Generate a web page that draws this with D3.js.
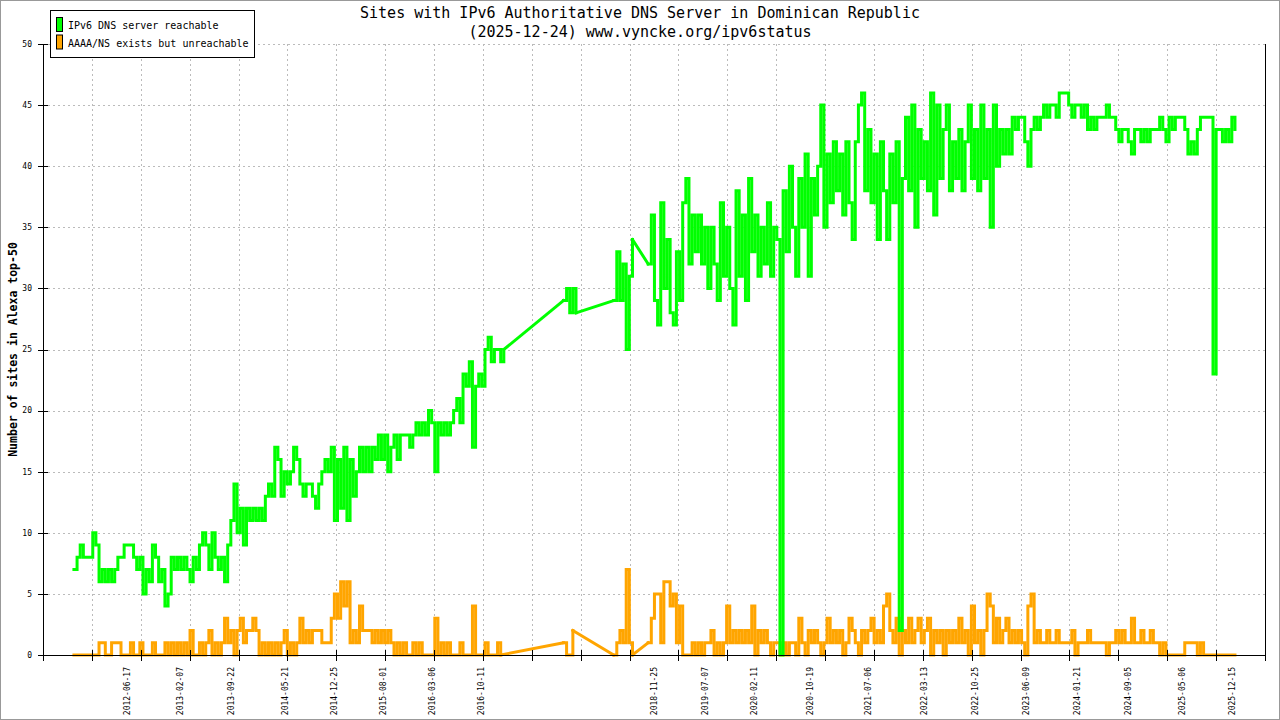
<!DOCTYPE html>
<html lang="en">
<head>
<meta charset="utf-8">
<title>IPv6 Authoritative DNS - Dominican Republic</title>
<style>
html,body{margin:0;padding:0;background:#fff;overflow:hidden;}
svg{display:block;font-family:"DejaVu Sans Mono",monospace;}
.grid line{stroke:#bbb;stroke-width:1;stroke-dasharray:2,3;}
.series{fill:none;stroke-width:3;stroke-linejoin:miter;stroke-linecap:square;}
</style>
</head>
<body>
<div id="chart"></div>
<script src="https://cdn.jsdelivr.net/npm/d3@7"></script>
<script>
/* ---------- data ---------- */
const titleLines = ['Sites with IPv6 Authoritative DNS Server in Dominican Republic',
                    '(2025-12-24) www.vyncke.org/ipv6status'];
const seriesNames = ['IPv6 DNS server reachable', 'AAAA/NS exists but unreachable'];
const yLabel = 'Number of sites in Alexa top-50';
const yTicks = [0, 5, 10, 15, 20, 25, 30, 35, 40, 45, 50];
const xLabelDates = ['2012-06-17','2013-02-07','2013-09-22','2014-05-21','2014-12-25',
  '2015-08-01','2016-03-06','2016-10-11','2018-11-25','2019-07-07','2020-02-11',
  '2020-10-19','2021-07-06','2022-03-13','2022-10-25','2023-06-09','2024-01-21',
  '2024-09-05','2025-05-06','2025-12-15'];
const xDomain = ['2011-06-06', '2026-05-10'];
const gridCount = 25;

// one sample every 14 days from sampleStart; null = no sample that fortnight
const sampleStart = '2011-10-22';
const sampleStepDays = 14;

const reachable = [
  7,8,9,8,8,8,10,9,6,7,
  6,7,6,7,8,8,9,9,9,8,
  7,8,5,7,6,9,8,6,7,4,
  5,8,7,8,7,8,7,6,8,7,
  9,10,9,7,10,8,7,8,6,9,
  11,14,10,12,9,12,11,12,11,12,
  11,13,14,13,17,16,13,15,14,15,
  17,16,14,13,14,14,13,12,14,15,
  16,15,17,11,16,12,17,11,16,13,
  15,17,15,17,15,17,16,18,16,18,
  15,17,18,16,18,18,18,17,18,19,
  18,19,18,20,19,15,19,18,19,18,
  19,20,21,19,23,22,24,17,22,23,
  22,25,26,24,25,25,24,25,
  null,null,null,null,null,null,null,null,null,null,null,null,null,null,null,null,null,null,
  29,30,28,30,28,
  null,null,null,null,null,null,null,null,null,null,null,
  29,33,29,32,25,31,34,
  null,null,null,null,
  32,36,29,27,37,30,34,28,27,33,29,
  37,39,32,36,33,36,32,35,30,35,
  32,29,37,31,35,30,27,38,31,36,
  29,39,33,36,31,35,32,37,31,35,34,
  0,
  38,33,40,35,31,39,35,41,31,39,36,40,45,
  35,41,37,42,38,41,36,42,37,34,42,45,46,38,43,37,41,34,
  42,38,34,41,37,42,2,39,
  44,38,45,35,43,39,42,
  38,46,36,45,39,43,45,38,42,39,43,38,42,45,39,43,38,45,39,43,35,45,40,
  43,41,43,41,
  44,43,44,44,
  42,40,43,44,43,44,
  45,44,45,45,44,
  46,46,46,
  45,44,45,45,44,45,
  43,44,43,44,44,44,45,44,44,
  43,42,43,43,42,41,43,43,42,43,42,43,43,43,
  44,43,42,44,43,44,44,44,43,
  41,42,41,
  43,44,44,44,44,
  23,
  43,43,42,43,42,44,43
];

const unreachable = [
  0,0,0,0,0,0,0,0,1,1,
  0,0,1,1,1,0,0,0,1,0,
  0,1,0,0,0,1,0,0,0,1,
  0,1,0,1,0,1,0,2,0,0,
  1,0,1,2,0,1,0,1,3,1,
  2,0,2,3,1,2,2,3,2,0,
  1,0,1,0,1,0,1,2,0,1,
  0,1,3,1,2,1,2,2,2,1,
  1,1,3,5,3,6,4,6,1,2,
  1,4,2,2,2,1,2,1,2,1,
  2,1,0,1,0,1,0,0,1,0,
  1,0,0,0,0,3,0,1,0,1,
  0,0,0,1,0,0,0,4,0,0,
  0,1,0,0,0,1,0,
  null,null,null,null,null,null,null,null,null,null,null,null,null,null,null,null,null,null,null,
  1,0,0,2,
  null,null,null,null,null,null,null,null,null,null,null,null,
  0,1,2,1,7,1,0,
  null,null,null,null,
  1,3,5,5,1,6,6,4,5,1,4,
  0,0,0,1,0,1,0,1,1,2,
  0,1,0,1,4,1,2,1,2,1,
  2,1,4,0,2,1,2,1,0,1,1,
  0,
  1,0,1,1,0,3,1,0,2,1,2,1,0,
  1,3,1,2,1,2,0,1,3,2,1,0,2,1,2,3,1,2,
  1,4,5,2,1,3,0,2,
  1,3,1,2,3,1,2,
  3,0,2,1,2,0,2,1,2,1,3,1,2,0,4,1,2,0,2,5,4,1,3,
  1,2,3,1,
  2,1,2,1,
  0,4,5,1,2,1,
  1,2,1,1,2,
  1,1,1,
  1,2,0,1,1,1,
  2,1,1,1,1,1,0,1,1,
  2,1,2,1,1,3,1,1,2,1,1,2,1,1,
  0,1,0,0,0,0,0,0,1,
  1,1,1,
  0,1,0,0,0,
  0,
  0,0,0,0,0,0,0
];

const colors = ['#00ff00', '#ffa500'];

/* ---------- canvas ---------- */
const W = 1280, H = 720;
const m = {left:43, right:15, top:44, bottom:65};
const parse = d3.utcParse('%Y-%m-%d');
const start = parse(sampleStart);
const toPoints = vals => vals
  .map((v, i) => ({date: d3.utcDay.offset(start, i * sampleStepDays), v}));

const svg = d3.select('#chart').append('svg').attr('width', W).attr('height', H);
svg.append('rect').attr('x', 0.5).attr('y', 0.5).attr('width', W - 1).attr('height', H - 1)
  .attr('fill', '#fff').attr('stroke', '#999');

const x = d3.scaleUtc().domain(xDomain.map(parse)).range([m.left, W - m.right]);
const y = d3.scaleLinear().domain([0, 50]).range([H - m.bottom, m.top]);
const y0 = y(0);

/* ---------- title ---------- */
svg.append('g').selectAll('text').data(titleLines).join('text')
  .attr('x', W / 2).attr('y', (d, i) => 18 + i * 19)
  .attr('text-anchor', 'middle').attr('font-size', 15).attr('fill', '#000')
  .text(d => d);

/* ---------- grid ---------- */
const gridX = d3.range(gridCount + 1).map(k =>
  x.invert(m.left + k * (W - m.left - m.right) / gridCount));
const grid = svg.append('g').attr('class', 'grid');
grid.selectAll('line.h').data(yTicks.slice(1)).join('line').attr('class', 'h')
  .attr('x1', m.left).attr('x2', W - m.right)
  .attr('y1', d => Math.round(y(d)) + 0.5).attr('y2', d => Math.round(y(d)) + 0.5);
grid.selectAll('line.v').data(gridX.slice(1, -1)).join('line').attr('class', 'v')
  .attr('x1', d => Math.round(x(d)) + 0.5).attr('x2', d => Math.round(x(d)) + 0.5)
  .attr('y1', m.top).attr('y2', y0);

/* ---------- series ---------- */
// dense fortnightly samples drawn as steps, missing stretches bridged by straight lines
const stepLine = d3.line().defined(d => d.v !== null)
  .x(d => x(d.date)).y(d => y(d.v)).curve(d3.curveStepAfter);
const straight = d3.line().x(d => x(d.date)).y(d => y(d.v));
function bridges(pts){
  const out = [];
  let last = null, gap = false;
  pts.forEach(p => {
    if (p.v === null) { gap = true; return; }
    if (gap && last) out.push([last, p]);
    last = p; gap = false;
  });
  return out;
}
[unreachable, reachable].forEach((vals, k) => {
  const pts = toPoints(vals);
  const g = svg.append('g').attr('class', 'series').attr('stroke', colors[1 - k]);
  g.append('path').attr('d', stepLine(pts));
  bridges(pts).forEach(b => g.append('path').attr('d', straight(b)));
});

/* ---------- axes ---------- */
const ax = svg.append('g').attr('stroke', '#000').attr('stroke-width', 1);
ax.append('line').attr('x1', m.left + 0.5).attr('x2', m.left + 0.5)
  .attr('y1', m.top).attr('y2', y0 + 0.5);
ax.append('line').attr('x1', W - m.right + 0.5).attr('x2', W - m.right + 0.5)
  .attr('y1', m.top).attr('y2', y0 + 0.5);
ax.append('line').attr('x1', m.left).attr('x2', W - m.right + 1)
  .attr('y1', y0 + 0.5).attr('y2', y0 + 0.5);
ax.selectAll('line.yt').data(yTicks).join('line').attr('class', 'yt')
  .attr('x1', m.left - 5).attr('x2', m.left + 5)
  .attr('y1', d => Math.round(y(d)) + 0.5).attr('y2', d => Math.round(y(d)) + 0.5);
ax.selectAll('line.xt').data(gridX).join('line').attr('class', 'xt')
  .attr('x1', d => Math.round(x(d)) + 0.5).attr('x2', d => Math.round(x(d)) + 0.5)
  .attr('y1', y0 - 5).attr('y2', y0 + 6);

svg.append('g').selectAll('text').data(yTicks).join('text')
  .attr('x', 32).attr('y', d => y(d)).attr('dy', '0.35em')
  .attr('text-anchor', 'end').attr('font-size', 8).attr('fill', '#000')
  .text(d => d);

svg.append('g').selectAll('text').data(xLabelDates).join('text')
  .attr('transform', d => `translate(${x(parse(d))},667) rotate(-90)`)
  .attr('dy', '0.35em').attr('text-anchor', 'end')
  .attr('font-size', 8).attr('fill', '#000')
  .text(d => d);

svg.append('text')
  .attr('transform', `translate(13,${(m.top + y0) / 2}) rotate(-90)`)
  .attr('dy', '0.35em').attr('text-anchor', 'middle')
  .attr('font-size', 11.5).attr('font-weight', 'bold').attr('fill', '#000')
  .text(yLabel);

/* ---------- legend ---------- */
const lg = svg.append('g');
lg.append('rect').attr('x', 50.5).attr('y', 10.5).attr('width', 204).attr('height', 47)
  .attr('fill', '#fff').attr('stroke', '#000');
seriesNames.forEach((name, i) => {
  lg.append('rect').attr('x', 56.5).attr('y', 17.5 + i * 17.5)
    .attr('width', 6).attr('height', 14)
    .attr('fill', colors[i]).attr('stroke', '#000');
  lg.append('text').attr('x', 68).attr('y', 29 + i * 17.5)
    .attr('font-size', 10).attr('fill', '#000').text(name);
});
</script>
</body>
</html>
